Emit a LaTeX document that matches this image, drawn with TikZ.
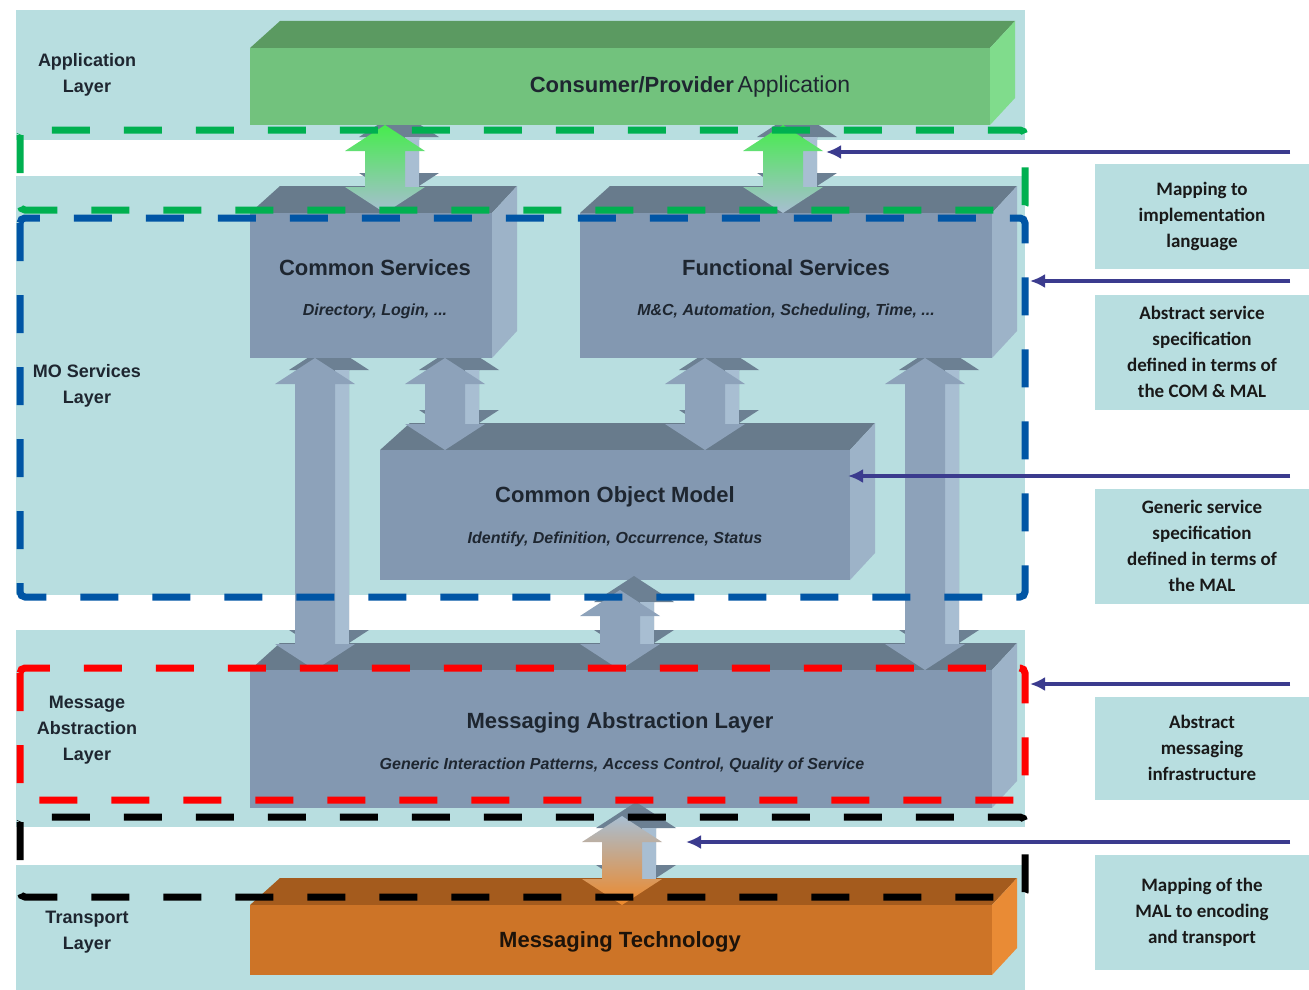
\documentclass[tikz,border=0pt]{standalone}
\usepackage{fontspec}
\setmainfont{Liberation Sans}
\newfontfamily\notefont{Carlito}
\usetikzlibrary{positioning,arrows.meta,fit,calc}
\definecolor{band}{HTML}{B8DEE0}
\definecolor{gfront}{HTML}{72C27D}
\definecolor{gtop}{HTML}{5B9A61}
\definecolor{gside}{HTML}{80DC8C}
\definecolor{sfront}{HTML}{8398B1}
\definecolor{stop}{HTML}{687B8C}
\definecolor{sside}{HTML}{9DB3C8}
\definecolor{ofront}{HTML}{CD7427}
\definecolor{otop}{HTML}{A45B1D}
\definecolor{oside}{HTML}{E98B35}
\definecolor{arrfront}{HTML}{8DA2BA}
\definecolor{arrback}{HTML}{6C8093}
\definecolor{arrside}{HTML}{A8BED2}
\definecolor{navy}{HTML}{3B3B8E}
\definecolor{dgreen}{HTML}{00B050}
\definecolor{dblue}{HTML}{0055A5}
\definecolor{ink}{HTML}{1E2630}
\tikzset{
  title/.style={font=\fontsize{22}{26}\selectfont\bfseries,text=ink},
  sub/.style={font=\fontsize{16}{19}\selectfont\bfseries\itshape,text=ink},
  layer/.style={font=\fontsize{18}{26}\selectfont\bfseries,align=center,text=ink},
  note/.style={fill=band,minimum width=214pt,align=center,inner sep=0pt,
    font=\notefont\fontsize{19}{26}\selectfont\bfseries,text=black!90},
  dashbox/.style={line width=7pt,dash pattern=on 38pt off 34pt,rounded corners=5pt},
  pointer/.style={draw=navy,line width=3.5pt,-{Latex[length=15pt,width=14pt]}},
}
% 3D slab: name, x1, y1, x2, y2, front, top, side
\newcommand{\slab}[8]{%
  \fill[#7] (#2,#3) -- (#2+30,#3-27) -- (#4+25,#3-27) -- (#4,#3) -- cycle;
  \fill[#8] (#4,#3) -- (#4+25,#3-27) -- (#4+25,#5-27) -- (#4,#5) -- cycle;
  \path (#2,#3) coordinate (#1-nw) (#4,#5) coordinate (#1-se);
  \node[fit=(#1-nw)(#1-se),inner sep=0pt,fill=#6] (#1) {};
}
% double block arrow: centre x, top y, bottom y, front fill
\newcommand{\barrow}[4]{%
  \fill[arrback] (#1+14,#2-14) -- (#1+54,#2+12) -- (#1+34,#2+12) -- (#1+34,#3-40)
    -- (#1+54,#3-40) -- (#1+14,#3-14) -- (#1-26,#3-40) -- (#1-6,#3-40)
    -- (#1-6,#2+12) -- (#1-26,#2+12) -- cycle;
  \fill[arrside] (#1+20,#2+12) rectangle (#1+34,#3-26);
  \path[#4] (#1,#2) -- (#1+40,#2+26) -- (#1+20,#2+26) -- (#1+20,#3-26)
    -- (#1+40,#3-26) -- (#1,#3) -- (#1-40,#3-26) -- (#1-20,#3-26)
    -- (#1-20,#2+26) -- (#1-40,#2+26) -- cycle;
}
\begin{document}
\begin{tikzpicture}[x=1pt,y=-1pt]
  \useasboundingbox[fill=white] (0,0) rectangle (1309,990);
  % layer bands
  \fill[band] (16,10) rectangle (1025,140);
  \fill[band] (16,176) rectangle (1025,595);
  \fill[band] (16,630) rectangle (1025,827);
  \fill[band] (16,865) rectangle (1025,990);
  % lower blocks
  \slab{com}{380}{450}{850}{580}{sfront}{stop}{sside}
  \slab{mal}{250}{670}{992}{808}{sfront}{stop}{sside}
  \slab{mt}{250}{905}{992}{975}{ofront}{otop}{oside}
  % arrows between the service blocks
  \barrow{315}{358}{670}{fill=arrfront}
  \barrow{445}{358}{450}{fill=arrfront}
  \barrow{705}{358}{450}{fill=arrfront}
  \barrow{925}{358}{670}{fill=arrfront}
  \barrow{620}{590}{670}{fill=arrfront}
  \barrow{622}{816}{905}{top color=arrside,bottom color=oside!80!orange}
  % upper blocks
  \slab{cs}{250}{213}{492}{358}{sfront}{stop}{sside}
  \slab{fs}{580}{213}{992}{358}{sfront}{stop}{sside}
  \barrow{385}{125}{213}{top color=green!45!gside,bottom color=arrside}
  \barrow{783}{125}{213}{top color=green!45!gside,bottom color=arrside}
  \slab{app}{250}{48}{990}{125}{gfront}{gtop}{gside}
  % dashed groupings
  \draw[dashbox,draw=dgreen] (20,130) rectangle (1025,210);
  \draw[dashbox,draw=dblue] (20,218) rectangle (1025,597);
  \draw[dashbox,draw=red] (20,668) rectangle (1025,800);
  \draw[dashbox,draw=black] (20,817) rectangle (1025,897);
  % block texts
  \node[title] (app-t) at (690,87) {Consumer/Provider\,{\mdseries\fontsize{23}{26}\selectfont Application}};
  \node[title] (cs-t) at (375,268) {Common Services};
  \node[sub] (cs-s) at (375,311) {Directory, Login, ...};
  \node[title] (fs-t) at (786,268) {Functional Services};
  \node[sub] (fs-s) at (786,311) {M\&C, Automation, Scheduling, Time, ...};
  \node[title] (com-t) at (615,497) {Common Object Model};
  \node[sub] (com-s) at (615,539) {Identify, Definition, Occurrence, Status};
  \node[title] (mal-t) at (620,723) {Messaging Abstraction Layer};
  \node[sub] (mal-s) at (622,765) {Generic Interaction Patterns, Access Control, Quality of Service};
  \node[title,text=black!85!brown] (mt-t) at (620,942) {Messaging Technology};
  % layer names
  \node[layer] (l1) at (87,75) {Application\\Layer};
  \node[layer] (l2) at (87,386) {MO Services\\Layer};
  \node[layer] (l3) at (87,730) {Message\\Abstraction\\Layer};
  \node[layer] (l4) at (87,932) {Transport\\Layer};
  % notes on the right
  \node[note,minimum height=105pt] (n1) at (1202,216) {Mapping to\\implementation\\language};
  \node[note,minimum height=115pt] (n2) at (1202,352) {Abstract service\\specification\\defined in terms of\\the COM \& MAL};
  \node[note,minimum height=115pt] (n3) at (1202,546) {Generic service\\specification\\defined in terms of\\the MAL};
  \node[note,minimum height=103pt] (n4) at (1202,748) {Abstract\\messaging\\infrastructure};
  \node[note,minimum height=115pt] (n5) at (1202,912) {Mapping of the\\MAL to encoding\\and transport};
  % pointers
  \coordinate (p1) at (1290,152); \coordinate (q1) at (826,152);
  \coordinate (p2) at (1290,281); \coordinate (q2) at (1030,281);
  \coordinate (p3) at (1290,476); \coordinate (q3) at (848,476);
  \coordinate (p4) at (1290,684); \coordinate (q4) at (1030,684);
  \coordinate (p5) at (1290,842); \coordinate (q5) at (686,842);
  \draw[pointer] (p1) -- (q1);
  \draw[pointer] (p2) -- (q2);
  \draw[pointer] (p3) -- (q3);
  \draw[pointer] (p4) -- (q4);
  \draw[pointer] (p5) -- (q5);
\end{tikzpicture}
\end{document}
